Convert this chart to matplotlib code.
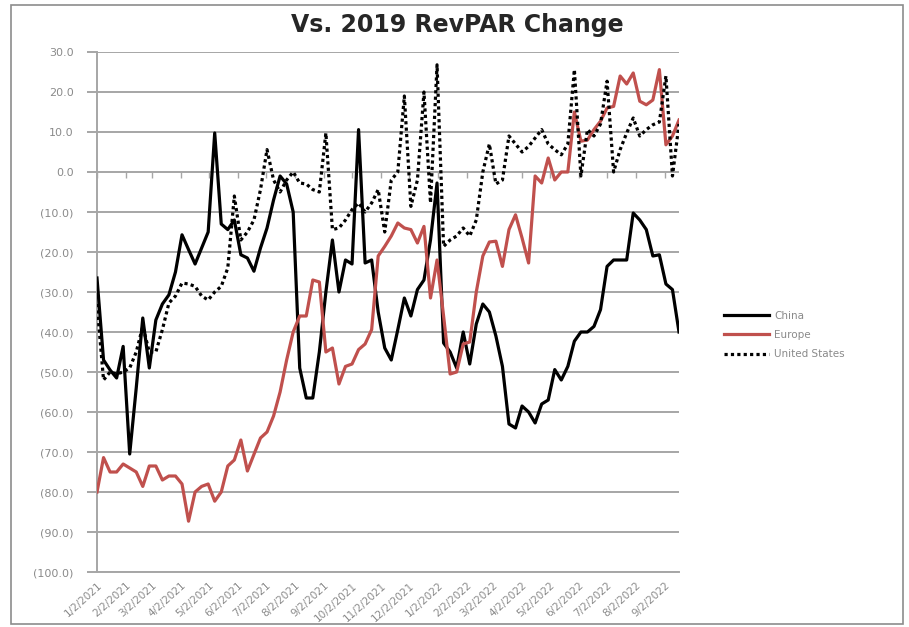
import matplotlib
matplotlib.use('Agg')
import matplotlib.pyplot as plt
from matplotlib.patches import Rectangle
import pandas as pd

# ---------------- data ----------------
start_date = '2021-01-02'
n_weeks = 90

china = [-26.5, -47, -49.5, -51.5, -43.6, -70.5, -54, -36.5, -49, -37,
         -33, -30.7, -25, -15.7, -19.4, -23, -19, -15, 9.75, -13,
         -14.4, -12, -20.7, -21.5, -24.8, -19, -14, -7, -1, -3,
         -10, -49, -56.5, -56.5, -45, -30, -17, -30, -22, -23,
         10.6, -22.75, -22, -35, -44, -47, -39.4, -31.5, -36, -29.4,
         -27, -17, -2.75, -42.75, -45, -49, -40, -48, -38, -33,
         -35, -41, -48.6, -63, -64, -58.5, -60, -62.75, -58, -57,
         -49.4, -52, -48.6, -42.3, -40, -40, -38.6, -34.4, -23.6, -22,
         -22, -22, -10.25, -12, -14.4, -21, -20.7, -28, -29.4, -40]

europe = [-80, -71.4, -75, -75, -73, -74, -75, -78.6, -73.5, -73.5,
          -77, -76, -76, -78, -87.3, -80, -78.6, -78, -82.3, -80,
          -73.5, -72, -67, -74.75, -70.6, -66.5, -65, -61, -55, -47,
          -40, -36, -36, -27, -27.5, -45, -44, -53, -48.6, -48,
          -44.4, -43, -39.4, -21, -18.6, -16, -12.75, -14, -14.4, -17.75,
          -13.6, -31.5, -22, -36, -50.5, -50, -43, -42.5, -30, -21,
          -17.5, -17.3, -23.6, -14.4, -10.7, -16.5, -22.75, -1, -2.75, 3.5,
          -2, 0, 0, 15, 7.7, 8, 10.6, 12.7, 16, 16.4,
          24, 22, 24.75, 17.7, 16.8, 18, 25.6, 6.8, 9, 13]

united_states = [-33, -52, -50, -50.5, -50, -49, -45, -38.6, -45, -45,
                 -39.4, -32.75, -31, -27.75, -28, -28.6, -31, -32, -30, -28.6,
                 -24, -6, -17, -15, -12, -4.4, 5.6, -2, -5, -2,
                 0, -2.75, -3, -4.4, -5, 9.75, -14.4, -14, -12, -9.4,
                 -7.75, -10, -7.75, -4.4, -15, -2, 0, 19, -8.6, -2,
                 20, -7.75, 26.8, -18.6, -17, -16, -14, -16, -12, 0,
                 7, -3, -2, 9, 7, 5, 6.4, 8.5, 10.6, 7,
                 5.6, 4.3, 7, 25.6, -1, 10.6, 9, 12, 22.7, 0,
                 5.6, 9.75, 13.5, 9, 10.6, 11.8, 12.5, 24, -1, 12]

series_names = ['China', 'Europe', 'United States']
title = 'Vs. 2019 RevPAR Change'
y_ticks = list(range(-100, 31, 10))
first_tick = '2021-01-02'
last_tick = '2022-09-02'

# ---------------- derived ----------------
dates = pd.date_range(start_date, periods=n_weeks, freq='7D')
tick_dates = pd.date_range(pd.Timestamp(first_tick) - pd.Timedelta(days=1),
                           pd.Timestamp(last_tick) - pd.Timedelta(days=1),
                           freq='MS') + pd.Timedelta(days=1)
tick_labels = [f"{d.month}/{d.day}/{d.year}" for d in tick_dates]


def ylab(v):
    return f"{v:.1f}" if v >= 0 else f"({abs(v):.1f})"


W, H = 909, 627
fig = plt.figure(figsize=(W / 100, H / 100), dpi=100)
fig.patch.set_facecolor('white')

L, R, T, B = 97, 679, 52, 572
ax = fig.add_axes([L / W, 1 - B / H, (R - L) / W, (B - T) / H])

grid_c = '#a6a6a6'
text_c = '#8a8a8a'

ax.plot(dates, china, color='black', lw=2.3, label=series_names[0], zorder=3)
ax.plot(dates, europe, color='#c0504d', lw=2.3, label=series_names[1], zorder=3)
ax.plot(dates, united_states, color='black', lw=2.3,
        linestyle=(0, (1, 1)), dash_capstyle='butt',
        label=series_names[2], zorder=4)

ax.set_ylim(min(y_ticks), max(y_ticks))
ax.set_xlim(dates[0], dates[-1])
ax.set_yticks(y_ticks)
ax.set_yticklabels([ylab(v) for v in y_ticks])
ax.set_xticks(tick_dates)
ax.set_xticklabels(tick_labels, rotation=42, ha='right', rotation_mode='anchor')

ax.yaxis.grid(True, color=grid_c, lw=1.4)
ax.set_axisbelow(True)
for s in ['top', 'right']:
    ax.spines[s].set_visible(False)
ax.spines['left'].set_color(grid_c)
ax.spines['left'].set_linewidth(1.4)
ax.spines['bottom'].set_color(grid_c)
ax.spines['bottom'].set_linewidth(1.4)

ax.tick_params(axis='y', colors=grid_c, labelcolor=text_c, labelsize=8,
               length=7, width=1.4, pad=10)
ax.tick_params(axis='x', length=0, labelcolor=text_c, labelsize=7.5, pad=6)
for lab in ax.get_xticklabels() + ax.get_yticklabels():
    lab.set_fontfamily('DejaVu Sans')

# minor tick marks on the zero line (horizontal axis crossing at 0)
ymin, ymax = min(y_ticks), max(y_ticks)
zero_frac = (0 - ymin) / (ymax - ymin)
sec = ax.secondary_xaxis(zero_frac)
sec.set_xticks(tick_dates)
sec.set_xticklabels([])
sec.tick_params(axis='x', direction='out', length=4, width=1, colors=grid_c)
sec.spines['bottom'].set_visible(False)
sec.spines['top'].set_visible(False)
sec.xaxis.set_ticks_position('bottom')

# title
fig.text(457 / W, 1 - 25 / H, title, ha='center', va='center',
         fontsize=17, fontweight='bold', color='#262626',
         fontfamily='DejaVu Sans')

# legend
leg = ax.legend(loc='center left', bbox_to_anchor=(720 / W, 1 - 335 / H),
                bbox_transform=fig.transFigure, frameon=False,
                fontsize=7.5, handlelength=4.3, handletextpad=0.5,
                labelspacing=0.9, borderaxespad=0)
for t in leg.get_texts():
    t.set_color(text_c)

# outer chart border
fig.patches.append(Rectangle((11 / W, 1 - 624 / H), (903 - 11) / W, (624 - 5) / H,
                             transform=fig.transFigure, fill=False,
                             edgecolor='#8c8c8c', lw=1.2))

fig.savefig('out.png', dpi=100)
